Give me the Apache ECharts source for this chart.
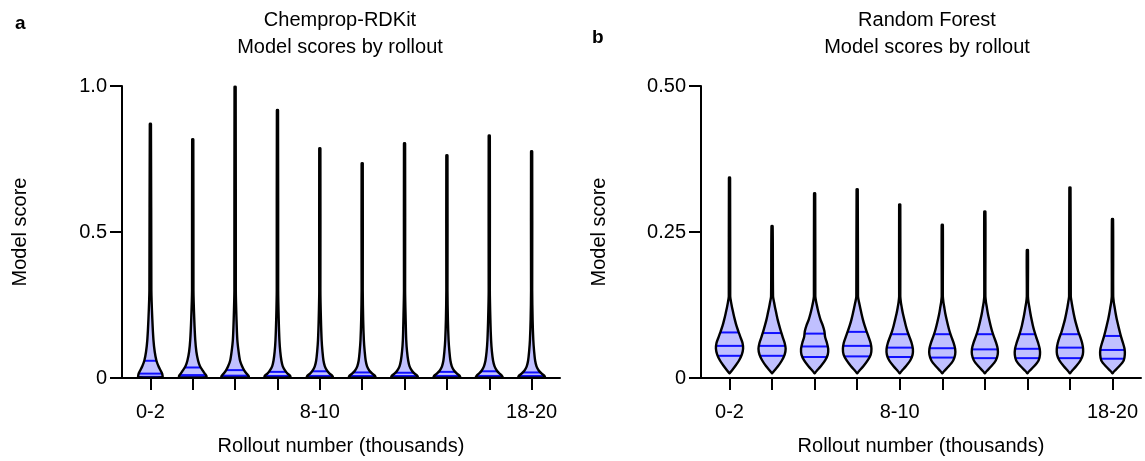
<!DOCTYPE html>
<html>
<head>
<meta charset="utf-8">
<script src="https://cdn.jsdelivr.net/npm/echarts@6/dist/echarts.min.js"></script>
<style>
html,body{margin:0;padding:0;background:#fff;}
#chart{width:1145px;height:461px;}
</style>
</head>
<body>
<div id="chart"></div>
<script>
// ---------- DATA ----------
const categories = ['0-2','2-4','4-6','6-8','8-10','10-12','12-14','14-16','16-18','18-20'];
const shownLabels = ['0-2','8-10','18-20'];

// Panel a: Chemprop-RDKit
const gridA = [0.003, 0.008, 0.015, 0.025, 0.04, 0.06, 0.09, 0.13, 0.2, 0.3];
const minA = [0.001, 0.001, 0.001, 0.001, 0.001, 0.001, 0.001, 0.001, 0.001, 0.001];
const maxA = [0.870, 0.817, 0.997, 0.917, 0.786, 0.735, 0.803, 0.762, 0.830, 0.776];
const densA = [
  [0.88, 0.87, 0.84, 0.74, 0.58, 0.43, 0.31, 0.22, 0.14, 0.07],
  [0.98, 0.97, 0.86, 0.72, 0.52, 0.38, 0.26, 0.18, 0.11, 0.05],
  [0.98, 0.95, 0.82, 0.66, 0.50, 0.35, 0.25, 0.16, 0.10, 0.05],
  [0.93, 0.90, 0.72, 0.55, 0.38, 0.28, 0.20, 0.14, 0.09, 0.05],
  [0.93, 0.88, 0.70, 0.52, 0.36, 0.26, 0.19, 0.13, 0.08, 0.04],
  [0.95, 0.90, 0.72, 0.52, 0.35, 0.25, 0.18, 0.12, 0.07, 0.04],
  [0.95, 0.90, 0.72, 0.53, 0.36, 0.26, 0.18, 0.12, 0.08, 0.04],
  [0.95, 0.90, 0.72, 0.52, 0.35, 0.25, 0.18, 0.12, 0.07, 0.04],
  [0.95, 0.90, 0.74, 0.55, 0.38, 0.27, 0.19, 0.13, 0.08, 0.04],
  [0.95, 0.90, 0.72, 0.52, 0.35, 0.25, 0.18, 0.12, 0.07, 0.04]
];
const q1A  = [0.004, 0.003, 0.003, 0.004, 0.004, 0.004, 0.004, 0.004, 0.004, 0.004];
const medA = [0.015, 0.010, 0.008, 0.007, 0.007, 0.007, 0.007, 0.007, 0.007, 0.007];
const q3A  = [0.059, 0.036, 0.027, 0.021, 0.023, 0.019, 0.018, 0.021, 0.023, 0.019];

// Panel b: Random Forest
const gridB = [0.012, 0.02, 0.03, 0.04, 0.05, 0.06, 0.07, 0.08, 0.09, 0.10, 0.11, 0.12, 0.13, 0.14];
const minB = [0.008, 0.008, 0.008, 0.008, 0.008, 0.008, 0.008, 0.008, 0.008, 0.008];
const maxB = [0.343, 0.260, 0.316, 0.323, 0.297, 0.262, 0.285, 0.219, 0.326, 0.272];
const densB = [
  [0.14, 0.40, 0.68, 0.88, 0.97, 0.93, 0.78, 0.63, 0.49, 0.38, 0.28, 0.19, 0.11, 0.05],
  [0.14, 0.42, 0.70, 0.90, 0.97, 0.90, 0.76, 0.63, 0.51, 0.40, 0.31, 0.22, 0.14, 0.07],
  [0.14, 0.44, 0.75, 0.94, 0.97, 0.88, 0.75, 0.70, 0.58, 0.42, 0.30, 0.20, 0.11, 0.05],
  [0.14, 0.44, 0.75, 0.97, 1.02, 0.96, 0.82, 0.67, 0.53, 0.41, 0.31, 0.22, 0.13, 0.06],
  [0.14, 0.44, 0.75, 0.92, 0.94, 0.85, 0.70, 0.55, 0.43, 0.33, 0.23, 0.15, 0.08, 0.04],
  [0.14, 0.46, 0.78, 0.92, 0.92, 0.81, 0.66, 0.52, 0.41, 0.31, 0.22, 0.15, 0.08, 0.04],
  [0.14, 0.46, 0.78, 0.92, 0.92, 0.81, 0.66, 0.52, 0.41, 0.31, 0.22, 0.15, 0.08, 0.04],
  [0.14, 0.48, 0.80, 0.90, 0.88, 0.77, 0.63, 0.50, 0.39, 0.30, 0.22, 0.15, 0.08, 0.04],
  [0.14, 0.44, 0.75, 0.92, 0.94, 0.87, 0.74, 0.59, 0.47, 0.36, 0.27, 0.19, 0.12, 0.06],
  [0.14, 0.48, 0.80, 0.88, 0.86, 0.75, 0.62, 0.51, 0.41, 0.31, 0.23, 0.16, 0.09, 0.05]
];
const q1B  = [0.038, 0.038, 0.036, 0.037, 0.036, 0.035, 0.034, 0.034, 0.034, 0.033];
const medB = [0.055, 0.055, 0.054, 0.055, 0.052, 0.051, 0.049, 0.050, 0.052, 0.048];
const q3B  = [0.078, 0.077, 0.076, 0.079, 0.075, 0.075, 0.075, 0.075, 0.075, 0.072];

const tailDensity = 0.04;
const bottomDensityA = 0.5;
const bottomDensityB = 0.0;

// ---------- STYLE ----------
const FONT = 'Liberation Sans, Arial, Helvetica, sans-serif';
const HALF_W = 14;      // px half-width at relative density 1
const FILL = '#c0c0ff';
const QLINE = '#1010ff';

function profile(grid, mins, maxs, dens, bottom, i) {
  const ys = [mins[i]].concat(grid).concat([maxs[i]]);
  const ds = [bottom].concat(dens[i]).concat([tailDensity]);
  return {ys, ds};
}
function densAt(p, y) {
  const {ys, ds} = p;
  if (y <= ys[0]) return ds[0];
  for (let k = 1; k < ys.length; k++) {
    if (y <= ys[k]) {
      const t = (y - ys[k-1]) / (ys[k] - ys[k-1]);
      return ds[k-1] + t * (ds[k] - ds[k-1]);
    }
  }
  return ds[ds.length-1];
}

function makeRender(grid, mins, maxs, dens, bottom, q1, med, q3) {
  return function (params, api) {
    const i = params.dataIndex;
    const xv = api.value(0);
    const p = profile(grid, mins, maxs, dens, bottom, i);
    const cx = api.coord([xv, 0])[0];
    const left = [], right = [];
    for (let k = 0; k < p.ys.length; k++) {
      const py = api.coord([xv, p.ys[k]])[1];
      const w = p.ds[k] * HALF_W;
      left.push([cx - w, py]);
      right.push([cx + w, py]);
    }
    const pts = left.concat(right.reverse());
    const children = [{
      type: 'polygon', shape: {points: pts, smooth: 0.25},
      style: {fill: FILL, stroke: null}
    }];
    [q1[i], med[i], q3[i]].forEach(q => {
      const py = api.coord([xv, q])[1];
      const w = densAt(p, q) * HALF_W;
      children.push({
        type: 'line', shape: {x1: cx - w, y1: py, x2: cx + w, y2: py},
        style: {stroke: QLINE, lineWidth: 2}
      });
    });
    children.push({
      type: 'polygon', shape: {points: pts, smooth: 0.25},
      style: {fill: null, stroke: '#000', lineWidth: 2.4, lineJoin: 'round'}
    });
    return {type: 'group', children};
  };
}

const xIdx = categories.map((c, i) => i + 1);

function xAxisCfg(gridIndex) {
  return {
    type: 'value', gridIndex, min: 0.33, max: 10.67,
    name: 'Rollout number (thousands)', nameLocation: 'middle', nameGap: 58,
    nameTextStyle: {fontFamily: FONT, fontSize: 20, color: '#000'},
    axisLine: {show: true, onZero: false, lineStyle: {color: '#000', width: 2}},
    axisTick: {show: true, length: 12, customValues: xIdx, lineStyle: {color: '#000', width: 2}},
    axisLabel: {
      customValues: [1, 5, 10], margin: 24,
      formatter: v => {
        const c = categories[Math.round(v) - 1];
        return shownLabels.indexOf(c) >= 0 ? c : '';
      },
      fontFamily: FONT, fontSize: 20, color: '#000'
    },
    splitLine: {show: false}
  };
}
function yAxisCfg(gridIndex, max, interval, digits) {
  return {
    type: 'value', gridIndex, min: 0, max, interval,
    name: 'Model score', nameLocation: 'middle', nameGap: 92, nameRotate: 90,
    nameTextStyle: {fontFamily: FONT, fontSize: 20, color: '#000'},
    axisLine: {show: true, lineStyle: {color: '#000', width: 2}},
    axisTick: {show: true, length: 12, lineStyle: {color: '#000', width: 2}},
    axisLabel: {
      margin: 15, fontFamily: FONT, fontSize: 20, color: '#000',
      formatter: v => v === 0 ? '0' : v.toFixed(digits)
    },
    splitLine: {show: false}
  };
}

const chart = echarts.init(document.getElementById('chart'), null, {renderer: 'canvas'});
chart.setOption({
  animation: false,
  backgroundColor: '#fff',
  title: [
    {text: 'a', left: 10, top: 9, textStyle: {fontFamily: FONT, fontSize: 19, fontWeight: 'bold', color: '#000'}},
    {text: 'b', left: 587, top: 23, textStyle: {fontFamily: FONT, fontSize: 19, fontWeight: 'bold', color: '#000'}},
    {text: 'Chemprop-RDKit\nModel scores by rollout', left: 335, top: 2, textAlign: 'center',
     textStyle: {fontFamily: FONT, fontSize: 20, fontWeight: 'normal', color: '#000', lineHeight: 27}},
    {text: 'Random Forest\nModel scores by rollout', left: 922, top: 2, textAlign: 'center',
     textStyle: {fontFamily: FONT, fontSize: 20, fontWeight: 'normal', color: '#000', lineHeight: 27}}
  ],
  grid: [
    {left: 122, right: 585, top: 86, bottom: 83},
    {left: 701, right: 4, top: 86, bottom: 83}
  ],
  xAxis: [xAxisCfg(0), xAxisCfg(1)],
  yAxis: [yAxisCfg(0, 1, 0.5, 1), yAxisCfg(1, 0.5, 0.25, 2)],
  series: [
    {type: 'custom', xAxisIndex: 0, yAxisIndex: 0, data: xIdx.map(x => [x]),
     renderItem: makeRender(gridA, minA, maxA, densA, bottomDensityA, q1A, medA, q3A), clip: false},
    {type: 'custom', xAxisIndex: 1, yAxisIndex: 1, data: xIdx.map(x => [x]),
     renderItem: makeRender(gridB, minB, maxB, densB, bottomDensityB, q1B, medB, q3B), clip: false}
  ]
});
</script>
</body>
</html>
